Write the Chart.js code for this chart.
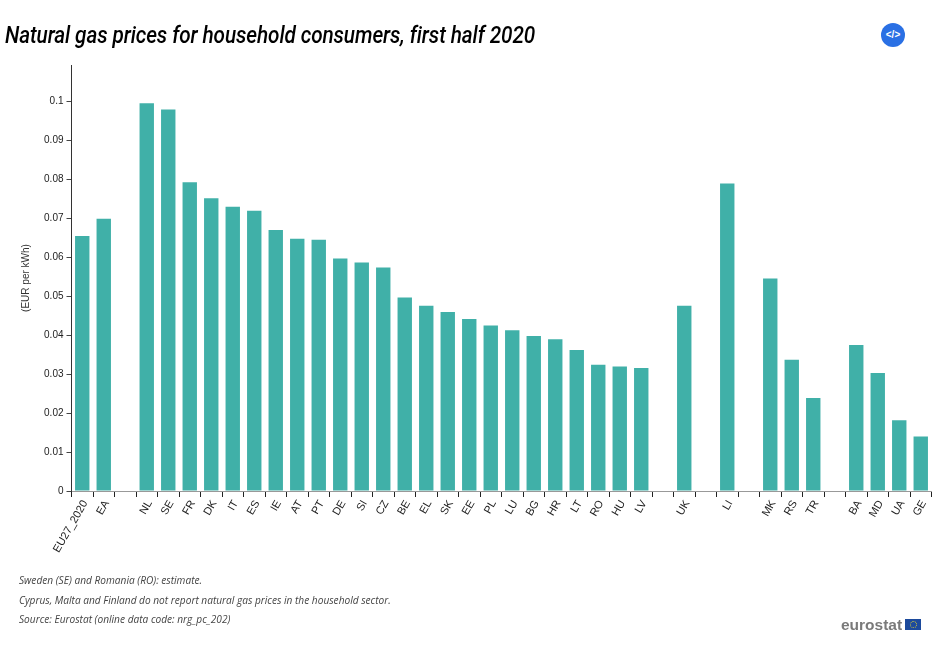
<!DOCTYPE html>
<html>
<head>
<meta charset="utf-8">
<script src="https://cdn.jsdelivr.net/npm/chart.js@4/dist/chart.umd.min.js"></script>
<style>
html,body{margin:0;padding:0;background:#fff;width:940px;height:648px;overflow:hidden}
#wrap{position:relative;width:940px;height:648px}
canvas{position:absolute;left:0;top:0}
.t{position:absolute;white-space:nowrap}
#title{left:5px;top:20px;font:italic 500 24px Roboto,sans-serif;color:#000;letter-spacing:-0.1px;line-height:30px;transform:scaleX(0.864);transform-origin:left center}
.n{left:19px;font:italic 10.15px "Open Sans",sans-serif;color:#444;line-height:14px}
#btn{left:881px;top:23px;width:24px;height:24px;border-radius:50%;background:#2a70e4;color:#fff;font:bold 10px/24px "Liberation Sans",sans-serif;text-align:center}
#logo{left:841px;top:615px;font:bold 15.5px/20px "Liberation Sans",sans-serif;color:#7a7a7a}
#flag{position:absolute;left:905px;top:619px;width:16px;height:11px;background:#1c4a9c}
#ring{position:absolute;left:4.5px;top:2px;width:5px;height:5px;border:1px dotted #c9c13c;border-radius:50%}
</style>
</head>
<body>
<div id="wrap">
<canvas id="c" width="940" height="648" style="width:940px;height:648px"></canvas>
<div class="t" id="title">Natural gas prices for household consumers, first half 2020</div>
<div class="t" id="btn">&lt;/&gt;</div>
<div class="t n" style="top:573px">Sweden (SE) and Romania (RO): estimate.</div>
<div class="t n" style="top:593px">Cyprus, Malta and Finland do not report natural gas prices in the household sector.</div>
<div class="t n" style="top:612px">Source: Eurostat (online data code: nrg_pc_202)</div>
<div class="t" id="logo">eurostat</div>
<div id="flag"><div id="ring"></div></div>
</div>
<script>
const categories = ["EU27_2020","EA","","NL","SE","FR","DK","IT","ES","IE","AT","PT","DE","SI","CZ","BE","EL","SK","EE","PL","LU","BG","HR","LT","RO","HU","LV","","UK","","LI","","MK","RS","TR","","BA","MD","UA","GE"];
const prices = [0.0655,0.0699,null,0.0996,0.098,0.0793,0.0752,0.073,0.072,0.067,0.0648,0.0645,0.0597,0.0587,0.0574,0.0497,0.0476,0.046,0.0442,0.0425,0.0413,0.0398,0.039,0.0362,0.0324,0.032,0.0316,null,0.0476,null,0.079,null,0.0546,0.0337,0.0239,null,0.0375,0.0303,0.0182,0.014];
const yAxisTitle = "(EUR per kWh)";
const yMax = 0.1094;
const yStep = 0.01;

Chart.defaults.font.family = '"Liberation Sans", Arial, sans-serif';
new Chart(document.getElementById('c'), {
  type: 'bar',
  data: {
    labels: categories,
    datasets: [{
      data: prices,
      backgroundColor: '#40b0a8',
      borderWidth: 0,
      barPercentage: 0.67,
      categoryPercentage: 1
    }]
  },
  options: {
    responsive: false,
    animation: false,
    devicePixelRatio: 1,
    layout: { padding: { left: 0, right: 8.5, top: 65, bottom: 0 } },
    plugins: { legend: { display: false }, title: { display: false }, tooltip: { enabled: false } },
    scales: {
      x: {
        type: 'category',
        afterFit(s) { s.height = 157; },
        border: { display: true, color: '#999', width: 1 },
        grid: { display: true, offset: true, drawOnChartArea: false, drawTicks: true, tickLength: 6, color: '#222', lineWidth: 1 },
        ticks: { autoSkip: false, maxRotation: 60, minRotation: 60, color: '#222', font: { size: 11 }, padding: 1, labelOffset: 3 }
      },
      y: {
        type: 'linear',
        min: 0,
        max: yMax,
        afterFit(s) { s.width = 71.5; },
        border: { display: true, color: '#333', width: 1 },
        grid: { display: true, drawOnChartArea: false, drawTicks: true, tickLength: 5, color: '#444', lineWidth: 1 },
        title: { display: true, text: yAxisTitle, color: '#333', font: { size: 10 }, padding: { top: 20, bottom: 0 } },
        ticks: {
          stepSize: yStep,
          includeBounds: false,
          color: '#222',
          font: { size: 10 },
          padding: 3,
          callback: v => String(Number(v.toFixed(2)))
        }
      }
    }
  }
});
</script>
</body>
</html>
